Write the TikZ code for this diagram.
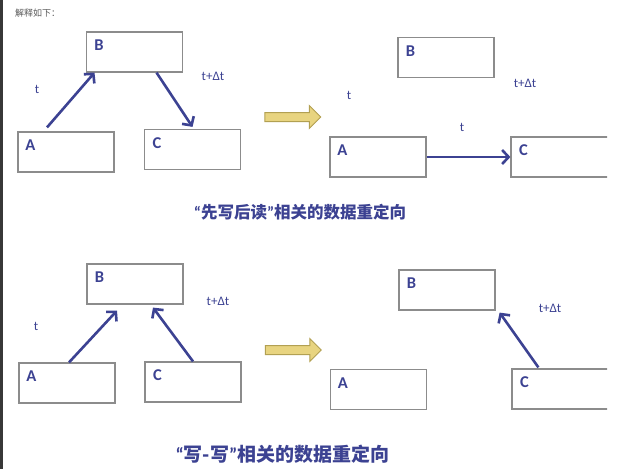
\documentclass[tikz,border=0pt]{standalone}
\usepackage{fontspec}
\setmainfont{Carlito}
\newfontfamily\cjk{Noto Sans CJK SC}
\usetikzlibrary{arrows.meta, positioning, shapes.arrows}
\definecolor{inkblue}{RGB}{60,66,146}
\definecolor{framegray}{RGB}{140,140,140}
\definecolor{goldfill}{RGB}{232,212,128}
\definecolor{golddraw}{RGB}{178,160,82}
\newcommand{\openq}{{\rmfamily\bfseries “}} % narrow latin quotes
\newcommand{\closeq}{{\rmfamily\bfseries ”}}
\tikzset{
        box/.style={draw=framegray, line width=1.2pt, minimum width=96pt, minimum height=40pt, inner sep=0pt}, % one memory box
        tag/.style={text=inkblue, font=\bfseries\fontsize{16.5}{16.5}\selectfont, inner sep=0pt}, % box letter
        time/.style={text=inkblue, font=\fontsize{13}{13}\selectfont, inner sep=0pt}, % t and t+dt
        move/.style={draw=inkblue, line width=2.6pt, -{Straight Barb[length=6.5pt,width=14pt]}},
        redirect/.style={single arrow, draw=golddraw, fill=goldfill, line width=1pt, minimum height=56pt, text height=0pt, text depth=0pt, inner xsep=0pt, inner ysep=4pt, single arrow head extend=7pt},
        caption/.style={text=inkblue, font=\cjk\bfseries\fontsize{16.5}{16.5}\selectfont, inner sep=0pt},
    }

\begin{document}
\begin{tikzpicture}[x=1pt, y=-1pt]
    \useasboundingbox (0,0) rectangle (617,469);
    \fill[black!78] (0,0) rectangle (3,469);
    \clip (0,0) rectangle (607,469);
    \node[anchor=west, text=black!65, font=\cjk\fontsize{9}{9}\selectfont, inner sep=0pt] (title) at (15,13) {解释如下：};

    % read after write
    \node[box] (B1) at (134.5,52) {};
    \node[box] (A1) at (66,152) {};
    \node[box] (C1) at (192.5,149.5) {};
    \node[tag] (lB1) at ([shift={(13,14)}]B1.north west) {B};
    \node[tag] (lA1) at ([shift={(13,14)}]A1.north west) {A};
    \node[tag] (lC1) at ([shift={(13,14)}]C1.north west) {C};
    \node[time] (t1) at (37,89) {t};
    \node[time] (dt1) at (213,76) {t+Δt};
    \draw[move] ([xshift=-19pt,yshift=4pt]A1.north) -- ([xshift=-40pt]B1.south);
    \draw[move] ([xshift=22pt]B1.south) -- ([yshift=2pt]C1.north);

    \node[redirect] (go1) at (290.5,117) {};

    \node[box] (B2) at (446,57.5) {};
    \node[box] (A2) at (378,157) {};
    \node[box, minimum width=110pt] (C2) at (566,157) {};
    \node[tag] (lB2) at ([shift={(13,14)}]B2.north west) {B};
    \node[tag] (lA2) at ([shift={(13,14)}]A2.north west) {A};
    \node[tag] (lC2) at ([shift={(13,14)}]C2.north west) {C};
    \node[time] (t2) at (349,95) {t};
    \node[time] (t3) at (462,127) {t};
    \node[time] (dt2) at (525,83) {t+Δt};
    \draw[move] (A2.east) -- (C2.west);

    \node[caption] (cap1) at (300,212) {\openq 先写后读\closeq 相关的数据重定向};

    % write after write
    \node[box] (B3) at (135,284) {};
    \node[box] (A3) at (67,383) {};
    \node[box] (C3) at (193,382) {};
    \node[tag] (lB3) at ([shift={(13,14)}]B3.north west) {B};
    \node[tag] (lA3) at ([shift={(13,14)}]A3.north west) {A};
    \node[tag] (lC3) at ([shift={(13,14)}]C3.north west) {C};
    \node[time] (t4) at (36,326) {t};
    \node[time] (dt3) at (218,301) {t+Δt};
    \draw[move] ([xshift=2pt]A3.north) -- ([xshift=-18pt,yshift=-6pt]B3.south);
    \draw[move] (C3.north) -- ([xshift=18pt,yshift=-3pt]B3.south);

    \node[redirect] (go2) at (291,350) {};

    \node[box] (B4) at (447,290) {};
    \node[box] (A4) at (378.5,389.5) {};
    \node[box, minimum width=110pt] (C4) at (567,389) {};
    \node[tag] (lB4) at ([shift={(13,14)}]B4.north west) {B};
    \node[tag] (lA4) at ([shift={(13,14)}]A4.north west) {A};
    \node[tag] (lC4) at ([shift={(13,14)}]C4.north west) {C};
    \node[time] (dt4) at (550,308) {t+Δt};
    \draw[move] ([xshift=27pt,yshift=1pt]C4.north west) -- ([xshift=4pt,yshift=-2pt]B4.south east);

    \node[caption, font=\cjk\bfseries\fontsize{19}{19}\selectfont] (cap2) at (282.5,454) {\openq 写-写\closeq 相关的数据重定向};
\end{tikzpicture}
\end{document}
